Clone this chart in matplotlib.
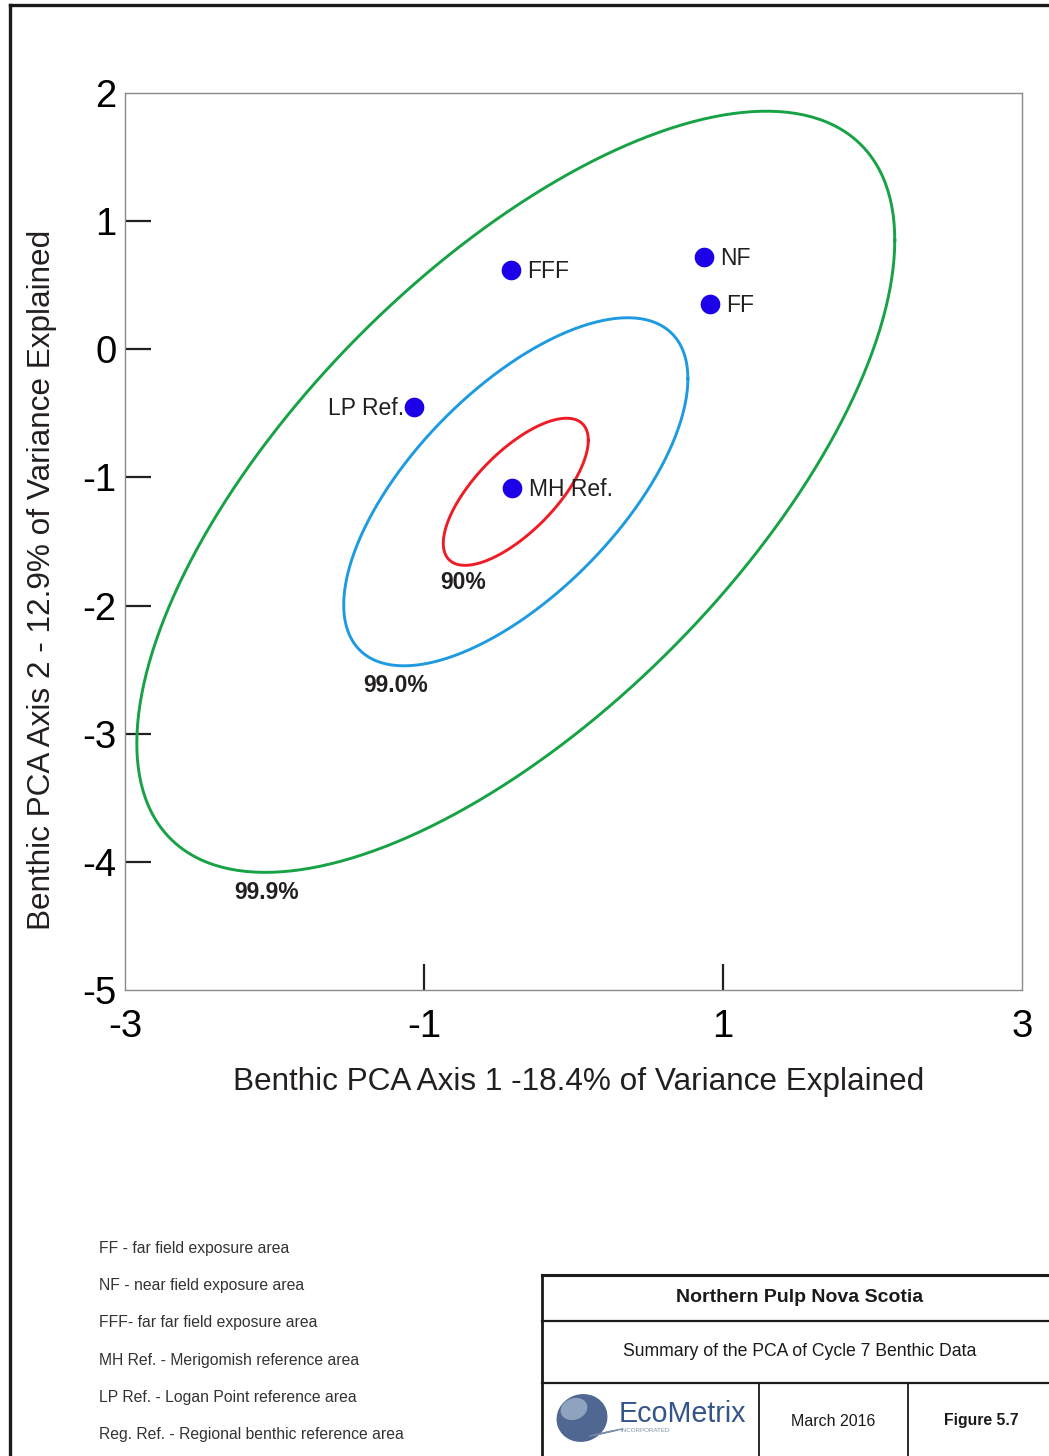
import numpy as np
import matplotlib
matplotlib.use('Agg')
import matplotlib.pyplot as plt
from matplotlib.patches import Ellipse

plt.rcParams['font.family'] = ['Liberation Sans', 'DejaVu Sans']

# site scores on the first two PCA axes
site_names = ['FFF', 'NF', 'FF', 'LP Ref.', 'MH Ref.']
site_x = [-0.42, 0.87, 0.91, -1.07, -0.41]
site_y = [0.62, 0.72, 0.35, -0.45, -1.08]
site_side = ['right', 'right', 'right', 'left', 'right']

# confidence ellipses: centre, half ranges on each axis, correlation
ell_labels = ['90%', '99.0%', '99.9%']
ell_colors = ['#ee1c24', '#1e9be0', '#16a245']
ell_cx = -0.386
ell_cy = -1.112
ell_sx = [0.485, 1.151, 2.535]
ell_sy = [0.574, 1.358, 2.97]
ell_r = [0.70, 0.65, 0.661]
ell_label_x = [-0.74, -1.19, -2.05]
ell_label_y = [-1.82, -2.62, -4.24]

x_ticks = [-3, -1, 1, 3]
y_ticks = [2, 1, 0, -1, -2, -3, -4, -5]

xlabel = 'Benthic PCA Axis 1 -18.4% of Variance Explained'
ylabel = 'Benthic PCA Axis 2 - 12.9% of Variance Explained'

legend_lines = ['FF - far field exposure area',
                'NF - near field exposure area',
                'FFF- far far field exposure area',
                'MH Ref. - Merigomish reference area',
                'LP Ref. - Logan Point reference area',
                'Reg. Ref. - Regional benthic reference area']

W, H = 1049, 1456
fig = plt.figure(figsize=(W / 100, H / 100), dpi=100)
fig.patch.set_facecolor('white')

ax = fig.add_axes([125 / W, 1 - 990 / H, 897 / W, 897 / H])
ax.set_xlim(-3, 3)
ax.set_ylim(-5, 2)

t = np.linspace(0, 2 * np.pi, 400)
for sx, sy, r, c in zip(ell_sx, ell_sy, ell_r, ell_colors):
    ex = ell_cx + sx * np.cos(t)
    ey = ell_cy + sy * (r * np.cos(t) + np.sqrt(1 - r ** 2) * np.sin(t))
    ax.plot(ex, ey, color=c, lw=2.1)

for lab, lx, ly in zip(ell_labels, ell_label_x, ell_label_y):
    ax.text(lx, ly, lab, fontsize=16.5, fontweight='bold', color='#231f20',
            ha='center', va='center')

ax.scatter(site_x, site_y, s=200, color='#1c00e8', zorder=5, linewidths=0)
for name, x, y, side in zip(site_names, site_x, site_y, site_side):
    if side == 'right':
        ax.annotate(name, (x, y), xytext=(12, -1), textcoords='offset points',
                    ha='left', va='center', fontsize=16.5, color='#231f20')
    else:
        ax.annotate(name, (x, y), xytext=(-7, -1), textcoords='offset points',
                    ha='right', va='center', fontsize=16.5, color='#231f20')

ax.set_xticks(x_ticks)
ax.set_yticks(y_ticks)
ax.set_xticklabels([str(v) for v in x_ticks])
ax.set_yticklabels([str(v) for v in y_ticks])
ax.tick_params(axis='both', direction='in', length=19, width=1.6,
               color='#231f20', labelsize=27.5, labelcolor='black')
ax.tick_params(axis='x', pad=14)
ax.tick_params(axis='y', pad=6)
for tk in ax.xaxis.get_major_ticks():
    if tk.get_loc() in (-3, 3):
        tk.tick1line.set_visible(False)
for tk in ax.yaxis.get_major_ticks():
    if tk.get_loc() in (2, -5):
        tk.tick1line.set_visible(False)

for sp in ax.spines.values():
    sp.set_color('#8a8a8a')
    sp.set_linewidth(1.0)

ax.set_xlabel(xlabel, fontsize=22.7, color='#231f20', va='center')
ax.set_ylabel(ylabel, fontsize=22.7, color='#231f20', va='center')
ax.xaxis.set_label_coords(0.506, -0.1026)
ax.yaxis.set_label_coords(-0.0925, 0.457)

# page furniture drawn in pixel coordinates
pg = fig.add_axes([0, 0, 1, 1], zorder=-1)
pg.set_xlim(0, W)
pg.set_ylim(H, 0)
pg.axis('off')

pg.plot([10, W], [5, 5], color='#1a1a1a', lw=2.4)
pg.plot([10, 10], [5, H], color='#1a1a1a', lw=2.4)

for i, line in enumerate(legend_lines):
    pg.text(99, 1248 + i * 37.4, line, fontsize=11.3, color='#333333',
            ha='left', va='center')

# title block
pg.plot([542, W], [1275, 1275], color='#1a1a1a', lw=2.2)
pg.plot([542, 542], [1275, H], color='#1a1a1a', lw=2.0)
pg.plot([542, W], [1321, 1321], color='#1a1a1a', lw=1.6)
pg.plot([542, W], [1383, 1383], color='#1a1a1a', lw=1.6)
pg.plot([759, 759], [1383, H], color='#1a1a1a', lw=1.3)
pg.plot([908, 908], [1383, H], color='#1a1a1a', lw=1.3)

pg.text(800, 1298, 'Northern Pulp Nova Scotia', fontsize=14, fontweight='bold',
        color='#1a1a1a', ha='center', va='center')
pg.text(800, 1351, 'Summary of the PCA of Cycle 7 Benthic Data', fontsize=12.7,
        color='#1a1a1a', ha='center', va='center')
pg.text(833, 1421, 'March 2016', fontsize=11.5, color='#1a1a1a',
        ha='center', va='center')
pg.text(981, 1421, 'Figure 5.7', fontsize=11.3, fontweight='bold',
        color='#1a1a1a', ha='center', va='center')

pg.add_patch(Ellipse((582, 1418), 50, 46, angle=-20, color='#4f6791'))
pg.add_patch(Ellipse((574, 1409), 26, 20, angle=-20, color='#8fa2c0'))
for k in range(3):
    pg.plot([590 + 5 * k, 612 + 5 * k], [1436 - k, 1431 - k], color='#7a8aa8', lw=1.0)
pg.text(619, 1414, 'EcoMetrix', fontsize=20.6, color='#35558a',
        ha='left', va='center')
pg.text(620, 1431, 'INCORPORATED', fontsize=4.5, color='#8090a8',
        ha='left', va='center')

fig.savefig('out.png', dpi=100, facecolor='white')
